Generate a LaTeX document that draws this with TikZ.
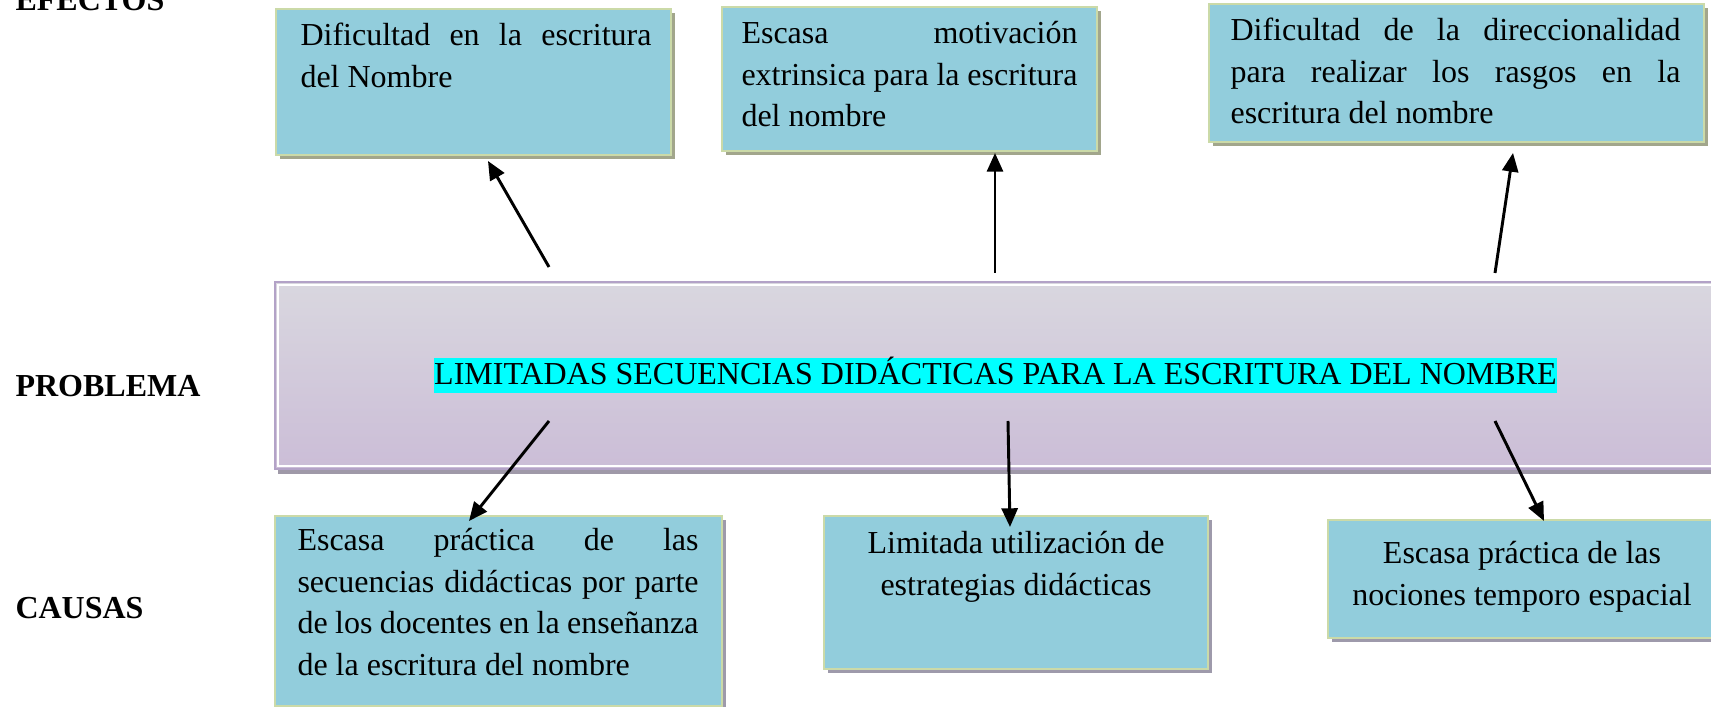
\documentclass[tikz,border=0pt]{standalone}
\usepackage{fontspec}
\setmainfont{Liberation Serif}
\usetikzlibrary{arrows.meta,fit,shadows}
\definecolor{boxfill}{HTML}{92CDDC}
\definecolor{eborder}{HTML}{CBDAA8}
\definecolor{eshadow}{HTML}{A2A68C}
\definecolor{cshadow}{HTML}{9E9AAB}
\definecolor{pborder}{HTML}{B3A2C7}
\definecolor{ptop}{HTML}{D9D7DF}
\definecolor{pbottom}{HTML}{CBBDD7}
\definecolor{pshadow}{HTML}{9F99A8}
\definecolor{hl}{HTML}{00FFFF}
\newcommand\jl[2]{\leavevmode\hbox to #1{\spaceskip=0pt\xspaceskip=0pt\relax #2}}
\newcommand\nl[1]{\leavevmode\hbox{\spaceskip=0pt\xspaceskip=0pt\relax #1}}
\begin{document}
\begin{tikzpicture}[x=0.375pt,y=-0.375pt,
  ebox/.style={draw=eborder, line width=1.1pt, fill=boxfill, inner sep=0pt,
    general shadow={fill=eshadow, shadow xshift=1.4pt, shadow yshift=-1.4pt}},
  cbox/.style={draw=eborder, line width=1.1pt, fill=boxfill, inner sep=0pt,
    general shadow={fill=cshadow, shadow xshift=1.4pt, shadow yshift=-1.4pt}},
  pbox/.style={draw=pborder, line width=1.1pt, top color=ptop, bottom color=pbottom, inner sep=0pt,
    general shadow={fill=pshadow, shadow xshift=1.2pt, shadow yshift=-1.8pt}},
  txt/.style={font=\fontsize{12}{15.56}\selectfont, inner sep=0pt, anchor=north west, align=left},
  ctxt/.style={font=\fontsize{12}{15.56}\selectfont, inner sep=0pt, anchor=north, align=center},
  lbl/.style={font=\fontsize{12}{15.56}\selectfont\bfseries, inner sep=0pt, anchor=base west},
  arr/.style={line width=1.1pt, -{Triangle[length=7pt,width=6pt]}}
]
\useasboundingbox (0,0) rectangle (1711,707);

% labels
\node[lbl] (lef) at (15,11) {EFECTOS};
\node[lbl] (lpr) at (15,397) {PROBLEMA};
\node[lbl] (lca) at (15,619) {CAUSAS};

% effect boxes
\node[ebox, fit={(276,9) (671,155)}] (e1) {};
\node[ebox, fit={(722,7) (1097,151)}] (e2) {};
\node[ebox, fit={(1209,4) (1704,142)}] (e3) {};
\node[txt, text width=131.6pt] (t1) at (300,16) {\strut\jl{131.6pt}{Dificultad en la escritura}\\\nl{del Nombre}};
\node[txt, text width=126pt] (t2) at (741,14) {\strut\jl{126pt}{Escasa motivación}\\\jl{126pt}{extrinsica para la escritura}\\\nl{del nombre}};
\node[txt, text width=168.75pt] (t3) at (1230,11) {\strut\jl{168.75pt}{Dificultad de la direccionalidad}\\\jl{168.75pt}{para realizar los rasgos en la}\\\nl{escritura del nombre}};

% problem box
\node[pbox, fit={(275,282) (1716,469)}] (p) {};
\draw[white, line width=0.8pt] ([shift={(4.5,4.5)}]p.north west) rectangle ([shift={(-4.5,-4.5)}]p.south east);
\node[font=\fontsize{12}{15.56}\selectfont, fill=hl, inner xsep=0pt, inner ysep=0pt,
  text height=1.0em, text depth=0.3em, anchor=base] (pt) at (995.5,385)
  {LIMITADAS SECUENCIAS DIDÁCTICAS PARA LA ESCRITURA DEL NOMBRE};

% cause boxes
\node[cbox, fit={(275,516) (722,706)}] (c1) {};
\node[cbox, fit={(824,516) (1208,669)}] (c2) {};
\node[cbox, fit={(1328,520) (1716,638)}] (c3) {};
\node[txt, text width=150.4pt] (t4) at (297,521) {\strut\jl{150.4pt}{Escasa práctica de las}\\\jl{150.4pt}{secuencias didácticas por parte}\\\jl{150.4pt}{de los docentes en la enseñanza}\\\nl{de la escritura del nombre}};
\node[ctxt] (t5) at (1016,524) {\strut Limitada utilización de\\estrategias didácticas};
\node[ctxt] (t6) at (1522,534) {\strut Escasa práctica de las\\nociones temporo espacial};

% arrow end points
\coordinate (a1s) at (549,267); \coordinate (a1e) at (488,161);
\coordinate (a2s) at (995,273); \coordinate (a2e) at (995,153);
\coordinate (a3s) at (1495,273); \coordinate (a3e) at (1513,153);
\coordinate (a4s) at (549,421); \coordinate (a4e) at (469,521);
\coordinate (a5s) at (1008,421); \coordinate (a5e) at (1010,527);
\coordinate (a6s) at (1495,421); \coordinate (a6e) at (1544,521);

\draw[arr] (a1s) -- (a1e);
\draw[arr] (a2s) -- (a2e);
\draw[arr] (a3s) -- (a3e);
\draw[arr] (a4s) -- (a4e);
\draw[arr] (a5s) -- (a5e);
\draw[arr] (a6s) -- (a6e);
\end{tikzpicture}
\end{document}
